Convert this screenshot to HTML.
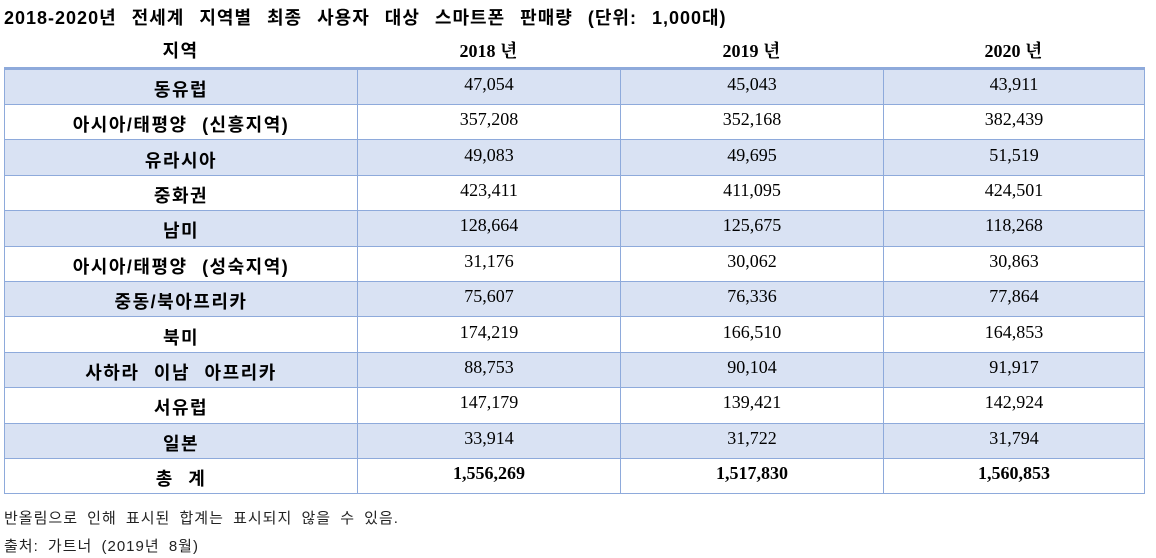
<!DOCTYPE html>
<html><head><meta charset="utf-8">
<style>
body{margin:0;width:1156px;height:558px;background:#fff;position:relative;overflow:hidden;font-family:"Liberation Sans","Noto Sans CJK KR",sans-serif;color:#000}
#title{position:absolute;left:4px;top:4px;font-size:18px;font-weight:bold;white-space:nowrap;letter-spacing:1px;word-spacing:9px}
#hdr{position:absolute;left:4px;top:35px;width:1140px;height:32px}
.h{position:absolute;top:0;height:32px;line-height:32px;text-align:center;font-weight:bold;font-size:18px}
.hs{font-family:"Liberation Serif","Noto Serif CJK SC","Noto Sans CJK KR",serif}
#tbl{position:absolute;left:4px;top:67px;width:1140px;border-collapse:collapse;table-layout:fixed;border-top:3px solid #8eaadb}
#tbl tr{height:35.4px}
#tbl td{border:1px solid #8eaadb;height:34px;padding:0;text-align:center;font-size:18px;vertical-align:middle;line-height:20px;overflow:hidden}
#tbl td span{position:relative;display:inline-block}
#tbl td.r{font-weight:bold;font-family:"Liberation Sans","Noto Sans CJK KR",sans-serif;letter-spacing:1.5px;word-spacing:8px}
#tbl td.r span{top:3px}
#tbl td.n{font-family:"Liberation Serif","Noto Serif CJK SC",serif}
#tbl td.n span{top:-3px}
#tbl tr.s td{background:#d9e2f3}
#tbl tr.t td.n{font-weight:bold}
.foot{position:absolute;left:4px;font-size:15px;color:#222;white-space:nowrap;letter-spacing:1px;word-spacing:4px}
</style></head><body>
<div id="title">2018-2020년 전세계 지역별 최종 사용자 대상 스마트폰 판매량 (단위: 1,000대)</div>
<div id="hdr">
<div class="h" style="left:0;width:353px;letter-spacing:1.5px">지역</div>
<div class="h hs" style="left:353px;width:263px">2018 년</div>
<div class="h hs" style="left:616px;width:263px">2019 년</div>
<div class="h hs" style="left:879px;width:261px">2020 년</div>
</div>
<table id="tbl">
<colgroup><col style="width:353px"><col style="width:263px"><col style="width:263px"><col style="width:261px"></colgroup>
<tbody id="tb"></tbody>
</table>
<div class="foot" style="top:507px">반올림으로 인해 표시된 합계는 표시되지 않을 수 있음.</div>
<div class="foot" style="top:535px">출처: 가트너 (2019년 8월)</div>
<script>
const regions=["동유럽","아시아/태평양 (신흥지역)","유라시아","중화권","남미","아시아/태평양 (성숙지역)","중동/북아프리카","북미","사하라 이남 아프리카","서유럽","일본","총 계"];
const v2018=["47,054","357,208","49,083","423,411","128,664","31,176","75,607","174,219","88,753","147,179","33,914","1,556,269"];
const v2019=["45,043","352,168","49,695","411,095","125,675","30,062","76,336","166,510","90,104","139,421","31,722","1,517,830"];
const v2020=["43,911","382,439","51,519","424,501","118,268","30,863","77,864","164,853","91,917","142,924","31,794","1,560,853"];
const tb=document.getElementById('tb');
regions.forEach((r,i)=>{
  const tr=document.createElement('tr');
  
  
  if(i%2===0&&i<11)tr.className='s';
  if(i===11)tr.className='t';
  const c=document.createElement('td');c.className='r';
  const cs=document.createElement('span');cs.textContent=r;c.appendChild(cs);
  
  
  tr.appendChild(c);
  [v2018,v2019,v2020].forEach(a=>{
    const d=document.createElement('td');d.className='n';
    const s=document.createElement('span');s.textContent=a[i];d.appendChild(s);
    
    
    tr.appendChild(d);
  });
  tb.appendChild(tr);
});
</script>
</body></html>
